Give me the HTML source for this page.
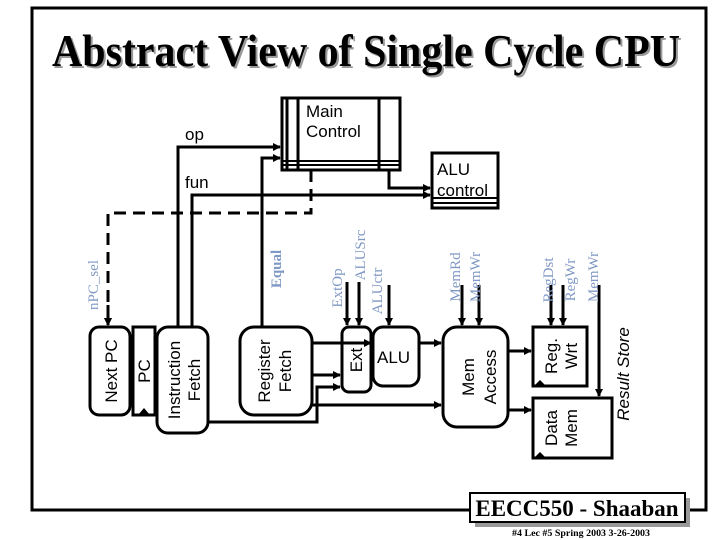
<!DOCTYPE html>
<html><head><meta charset="utf-8"><style>
html,body{margin:0;padding:0;background:#fff;}
svg{display:block;}
.s{font-family:"Liberation Sans",sans-serif;font-size:17px;fill:#000;}
.c{font-family:"Liberation Serif",serif;font-size:15px;fill:#8098c4;}
</style></head><body>
<svg width="720" height="540" viewBox="0 0 720 540" xmlns="http://www.w3.org/2000/svg">
<defs>
<marker id="a" markerWidth="8" markerHeight="8" refX="7" refY="4" orient="auto" markerUnits="userSpaceOnUse">
<path d="M0,0 L8,4 L0,8 z" fill="#000"/></marker>
</defs>
<!-- frame -->
<path d="M470,510 H32 V8 H706 V510 H690" fill="none" stroke="#000" stroke-width="3"/>
<!-- title -->
<text x="54" y="68" textLength="628" lengthAdjust="spacingAndGlyphs" font-family="Liberation Serif,serif" font-weight="bold" font-size="46" fill="#999">Abstract View of Single Cycle CPU</text>
<text x="52" y="66" textLength="628" lengthAdjust="spacingAndGlyphs" font-family="Liberation Serif,serif" font-weight="bold" font-size="46" fill="#000">Abstract View of Single Cycle CPU</text>

<g fill="none" stroke="#000" stroke-width="3">
<rect x="282" y="98" width="118" height="72" fill="#fff"/>
<line x1="287" y1="98" x2="287" y2="170"/>
<line x1="298" y1="98" x2="298" y2="170"/>
<line x1="379" y1="98" x2="379" y2="170"/>
<line x1="282" y1="161" x2="400" y2="161" stroke-width="2"/>
<line x1="282" y1="165" x2="400" y2="165" stroke-width="2"/>
<rect x="432" y="153" width="66" height="55" fill="#fff"/>
<line x1="432" y1="198" x2="498" y2="198" stroke-width="2"/>
<line x1="432" y1="203" x2="498" y2="203" stroke-width="2"/>
<path d="M389,170 V188 H430" marker-end="url(#a)"/>
<path d="M192,327 V195 H430" marker-end="url(#a)"/>
<path d="M178,327 V147 H280" marker-end="url(#a)"/>
<path d="M262,327 V158 H280" marker-end="url(#a)"/>
<path d="M311,170 V213 H108 V325" stroke-dasharray="12,7" marker-end="url(#a)"/>
<line x1="108" y1="305" x2="108" y2="325" marker-end="url(#a)"/>
<rect x="90" y="327" width="40" height="88" rx="9"/>
<path d="M133,327 H155 V415 H133 Z"/>
<rect x="157" y="327" width="51" height="106" rx="11"/>
<rect x="240" y="327" width="72" height="88" rx="14"/>
<rect x="342" y="327" width="29" height="65" rx="7"/>
<rect x="373" y="327" width="46" height="59" rx="10"/>
<rect x="443" y="327" width="65" height="100" rx="14"/>
<rect x="533" y="327" width="54" height="59"/>
<rect x="533" y="398" width="79" height="60"/>
<path d="M312,343 H371" marker-end="url(#a)"/>
<path d="M312,375 H340" marker-end="url(#a)"/>
<path d="M208,422 H317 V387 H340" marker-end="url(#a)"/>
<path d="M312,405 H441" marker-end="url(#a)"/>
<path d="M419,343 H441" marker-end="url(#a)"/>
<path d="M508,351 H531" marker-end="url(#a)"/>
<path d="M508,410 H531" marker-end="url(#a)"/>
<path d="M347,282 V325" marker-end="url(#a)"/>
<path d="M359,282 V325" marker-end="url(#a)"/>
<path d="M389,285 V325" marker-end="url(#a)"/>
<path d="M462,285 V325" marker-end="url(#a)"/>
<path d="M479,285 V325" marker-end="url(#a)"/>
<path d="M551,285 V325" marker-end="url(#a)"/>
<path d="M563,285 V325" marker-end="url(#a)"/>
<path d="M599,285 V396" marker-end="url(#a)"/>
</g>
<path d="M138,415 L144,408 L150,415 Z" fill="#000"/>
<path d="M534,386 L540,380 L546,386 Z" fill="#000"/>
<path d="M534,458 L540,452 L546,458 Z" fill="#000"/>

<text class="s" x="306" y="117">Main</text>
<text class="s" x="306" y="137">Control</text>
<text class="s" x="437" y="175">ALU</text>
<text class="s" x="437" y="196">control</text>
<text class="s" x="185" y="140">op</text>
<text class="s" x="185" y="188">fun</text>
<text class="s" x="377" y="363">ALU</text>
<g class="s" text-anchor="middle">
<text transform="translate(117,371) rotate(-90)">Next PC</text>
<text transform="translate(150,371) rotate(-90)">PC</text>
<text transform="translate(180,380) rotate(-90)">Instruction</text>
<text transform="translate(200,380) rotate(-90)">Fetch</text>
<text transform="translate(270,371) rotate(-90)">Register</text>
<text transform="translate(291,371) rotate(-90)">Fetch</text>
<text transform="translate(362,360) rotate(-90)">Ext</text>
<text transform="translate(474,377) rotate(-90)">Mem</text>
<text transform="translate(496,377) rotate(-90)">Access</text>
<text transform="translate(557,356) rotate(-90)">Reg.</text>
<text transform="translate(577,356) rotate(-90)">Wrt</text>
<text transform="translate(557,428) rotate(-90)">Data</text>
<text transform="translate(577,428) rotate(-90)">Mem</text>
<text transform="translate(629,374) rotate(-90)" font-style="italic">Result Store</text>
</g>
<g class="c" text-anchor="middle">
<text transform="translate(98,285) rotate(-90)">nPC_sel</text>
<text transform="translate(281,269) rotate(-90)" font-weight="bold">Equal</text>
<text transform="translate(342,288) rotate(-90)">ExtOp</text>
<text transform="translate(365,255) rotate(-90)">ALUSrc</text>
<text transform="translate(382,291) rotate(-90)">ALUctr</text>
<text transform="translate(460,277) rotate(-90)">MemRd</text>
<text transform="translate(480,277) rotate(-90)">MemWr</text>
<text transform="translate(553,280) rotate(-90)">RegDst</text>
<text transform="translate(575,280) rotate(-90)">RegWr</text>
<text transform="translate(598,277) rotate(-90)">MemWr</text>
</g>
<rect x="475" y="498" width="215" height="29" fill="#999"/>
<rect x="470" y="493" width="215" height="29" fill="#fff" stroke="#000" stroke-width="2"/>
<text x="577" y="516" text-anchor="middle" font-family="Liberation Serif,serif" font-weight="bold" font-size="23">EECC550 - Shaaban</text>
<text x="512" y="536" textLength="138" lengthAdjust="spacingAndGlyphs" font-family="Liberation Serif,serif" font-weight="bold" font-size="9">#4   Lec #5  Spring 2003  3-26-2003</text>
</svg>
</body></html>
